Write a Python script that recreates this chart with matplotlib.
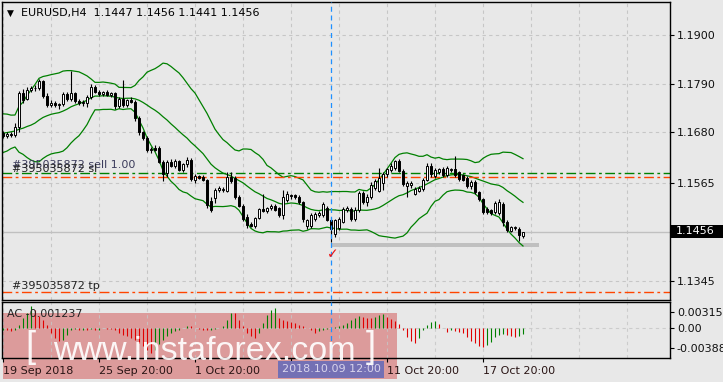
import matplotlib
matplotlib.use("Agg")
import matplotlib.pyplot as plt
import numpy as np
import pandas as pd
from matplotlib.patches import Rectangle

# ---------------- data ----------------
symbol_title = "EURUSD,H4  1.1447 1.1456 1.1441 1.1456"

pre_closes = [1.1650, 1.1640, 1.1655, 1.1690, 1.1705, 1.1700, 1.1715, 1.1690, 1.1660, 1.1645,
              1.1665, 1.1680, 1.1700, 1.1710, 1.1695, 1.1670, 1.1660, 1.1675, 1.1685]

opens = [1.1678, 1.1672, 1.1677, 1.1674, 1.1693, 1.1768, 1.1755, 1.1776, 1.1779, 1.1781,
         1.1796, 1.1762, 1.1742, 1.1745, 1.1741, 1.1743, 1.1766, 1.1756, 1.1768, 1.1750,
         1.1746, 1.1745, 1.1760, 1.1782, 1.1772, 1.1767, 1.1770, 1.1765, 1.1768, 1.1740,
         1.1755, 1.1742, 1.1752, 1.1748, 1.1712, 1.1680, 1.1667, 1.1640, 1.1645, 1.1645,
         1.1614, 1.1588, 1.1614, 1.1605, 1.1615, 1.1595, 1.1608, 1.1618, 1.1573, 1.1581,
         1.1580, 1.1572, 1.1525, 1.1532, 1.1550, 1.1550, 1.1548, 1.1580, 1.1578, 1.1535,
         1.1515, 1.1490, 1.1474, 1.1470, 1.1488, 1.1507, 1.1503, 1.1510, 1.1514, 1.1510,
         1.1494, 1.1528, 1.1538, 1.1538, 1.1534, 1.1522, 1.1468, 1.1468, 1.1485, 1.1494,
         1.1494, 1.1510, 1.1483, 1.1450, 1.1465, 1.1478, 1.1505, 1.1508, 1.1485, 1.1505,
         1.1543, 1.1522, 1.1535, 1.1555, 1.1548, 1.1565, 1.1585, 1.1595, 1.1600, 1.1615,
         1.1594, 1.1560, 1.1562, 1.1542, 1.1548, 1.1552, 1.1573, 1.1605, 1.1582, 1.1590,
         1.1598, 1.1584, 1.1596, 1.1598, 1.1590, 1.1583, 1.1578, 1.1558, 1.1568, 1.1545,
         1.1529, 1.1508, 1.1504, 1.1500, 1.1498, 1.1518, 1.1478, 1.1458, 1.1464, 1.1462,
         1.1447]
highs = [1.1683, 1.1680, 1.1681, 1.1700, 1.1773, 1.1778, 1.1782, 1.1784, 1.1786, 1.1800,
         1.1799, 1.1768, 1.1752, 1.1750, 1.1747, 1.1770, 1.1772, 1.1818, 1.1772, 1.1756,
         1.1752, 1.1764, 1.1790, 1.1786, 1.1776, 1.1773, 1.1775, 1.1772, 1.1772, 1.1760,
         1.1798, 1.1756, 1.1760, 1.1752, 1.1716, 1.1684, 1.1672, 1.1646, 1.1652, 1.1650,
         1.1618, 1.1618, 1.1620, 1.1620, 1.1618, 1.1612, 1.1625, 1.1622, 1.1585, 1.1584,
         1.1583, 1.1575, 1.1535, 1.1555, 1.1558, 1.1556, 1.1590, 1.1590, 1.1582, 1.1538,
         1.1518, 1.1495, 1.1478, 1.1490, 1.1510, 1.1540, 1.1512, 1.1518, 1.1518, 1.1512,
         1.1550, 1.1548, 1.1542, 1.1542, 1.1538, 1.1525, 1.1485, 1.1498, 1.1500, 1.1502,
         1.1522, 1.1515, 1.1487, 1.1485, 1.1490, 1.1512, 1.1514, 1.1512, 1.1512, 1.1548,
         1.1548, 1.1540, 1.1568, 1.1575, 1.1600, 1.1590, 1.1600, 1.1610, 1.1618, 1.1620,
         1.1598, 1.1570, 1.1570, 1.1556, 1.1558, 1.1578, 1.1610, 1.1610, 1.1600, 1.1600,
         1.1602, 1.1605, 1.1600, 1.1627, 1.1594, 1.1587, 1.1582, 1.1572, 1.1572, 1.1548,
         1.1532, 1.1512, 1.1508, 1.1525, 1.1530, 1.1522, 1.1482, 1.1470, 1.1468, 1.1466,
         1.1456]
lows = [1.1668, 1.1668, 1.1669, 1.1670, 1.1680, 1.1745, 1.1752, 1.1770, 1.1774, 1.1776,
        1.1758, 1.1737, 1.1736, 1.1738, 1.1733, 1.1740, 1.1750, 1.1750, 1.1745, 1.1742,
        1.1740, 1.1738, 1.1756, 1.1768, 1.1762, 1.1762, 1.1762, 1.1760, 1.1733, 1.1735,
        1.1738, 1.1738, 1.1745, 1.1705, 1.1675, 1.1663, 1.1636, 1.1633, 1.1638, 1.1610,
        1.1570, 1.1580, 1.1602, 1.1600, 1.1592, 1.1590, 1.1603, 1.1570, 1.1566, 1.1574,
        1.1570, 1.1510, 1.1500, 1.1520, 1.1545, 1.1546, 1.1545, 1.1565, 1.1530, 1.1512,
        1.1480, 1.1465, 1.1466, 1.1465, 1.1484, 1.1500, 1.1498, 1.1505, 1.1502, 1.1490,
        1.1485, 1.1522, 1.1530, 1.1530, 1.1518, 1.1478, 1.1462, 1.1464, 1.1480, 1.1490,
        1.1490, 1.1480, 1.1432, 1.1444, 1.1460, 1.1475, 1.1500, 1.1480, 1.1480, 1.1500,
        1.1518, 1.1515, 1.1530, 1.1550, 1.1545, 1.1550, 1.1580, 1.1590, 1.1595, 1.1590,
        1.1560, 1.1535, 1.1555, 1.1538, 1.1545, 1.1548, 1.1570, 1.1580, 1.1578, 1.1585,
        1.1580, 1.1580, 1.1590, 1.1580, 1.1570, 1.1570, 1.1555, 1.1552, 1.1540, 1.1525,
        1.1495, 1.1495, 1.1494, 1.1496, 1.1494, 1.1470, 1.1455, 1.1455, 1.1460, 1.1435,
        1.1441]
closes = [1.1672, 1.1677, 1.1673, 1.1693, 1.1768, 1.1753, 1.1776, 1.1779, 1.1781, 1.1796,
          1.1762, 1.1742, 1.1745, 1.1741, 1.1743, 1.1766, 1.1756, 1.1768, 1.1750, 1.1746,
          1.1748, 1.1760, 1.1782, 1.1772, 1.1767, 1.1770, 1.1765, 1.1768, 1.1740, 1.1755,
          1.1742, 1.1752, 1.1748, 1.1712, 1.1680, 1.1667, 1.1640, 1.1643, 1.1640, 1.1614,
          1.1586, 1.1614, 1.1605, 1.1615, 1.1595, 1.1608, 1.1618, 1.1575, 1.1581, 1.1578,
          1.1572, 1.1517, 1.1505, 1.1550, 1.1554, 1.1553, 1.1580, 1.1570, 1.1535, 1.1515,
          1.1485, 1.1472, 1.1470, 1.1488, 1.1507, 1.1503, 1.1510, 1.1514, 1.1506, 1.1494,
          1.1535, 1.1540, 1.1536, 1.1534, 1.1522, 1.1484, 1.1483, 1.1494, 1.1496, 1.1499,
          1.1518, 1.1483, 1.1462, 1.1483, 1.1485, 1.1508, 1.1509, 1.1485, 1.1505, 1.1543,
          1.1522, 1.1535, 1.1562, 1.1570, 1.1578, 1.1585, 1.1597, 1.1605, 1.1615, 1.1594,
          1.1563, 1.1565, 1.1566, 1.1552, 1.1554, 1.1573, 1.1605, 1.1585, 1.1596, 1.1598,
          1.1584, 1.1600, 1.1598, 1.1584, 1.1575, 1.1573, 1.1558, 1.1568, 1.1545, 1.1529,
          1.1500, 1.1500, 1.1498, 1.1520, 1.1522, 1.1478, 1.1460, 1.1466, 1.1466, 1.1449,
          1.1456]

# Accelerator oscillator values (x 1e-4)
ac_values = [-3.3, -4.6, -5.0, -3.3, 6.6, 20, 30, 43, 36, 23,
             16, 6.6, -10, -20, -26, -23, -13, -3, -2, -4.6,
             -3.3, -4.6, -2, -3.3, -3.3, 0.3, -1.3, -2, -4.6, -10,
             -13, -16, -20, -23, -30, -36, -43, -49, -44, -32,
             -23, -16, -10, -6.6, -3.3, 0.2, 4.6, 4.0, 0.2, -2,
             -3.3, -4.6, -3.3, -2, 0.2, 3.3, 16, 30, 29, 16,
             3.3, -10, -16, -20, -10, 10, 26, 36, 39.5, 20,
             16.5, 13, 12.5, 10, 6.6, 3.3, 0.2, -3.3, -10, -6.6,
             -3.3, -1, 0.5, 2, 3.3, 6.6, 10, 16, 20, 23,
             21, 20, 19, 22, 25, 27, 22, 18, 13, 7,
             -4, -17, -25, -29, -20, -4, 6, 12, 13, 8,
             0.3, -7, -4, -5, -7, -10, -17, -25, -30, -35,
             -37, -33, -27, -17, -14, -12, -14, -16, -17, -15,
             -12.37]

price_ticks = [1.1900, 1.1790, 1.1680, 1.1565, 1.1345]
price_tick_labels = ["1.1900", "1.1790", "1.1680", "1.1565", "1.1345"]
ac_ticks = [0.003157, 0.0, -0.003884]
ac_tick_labels = ["0.003157", "0.00", "-0.003884"]
time_ticks = [0, 24, 48, 72, 96, 120]
time_labels = ["19 Sep 2018", "25 Sep 20:00", "1 Oct 20:00", "", "11 Oct 20:00", "17 Oct 20:00"]
marker_bar = 82
marker_label = "2018.10.09 12:00"

order_price = 1.1589
sl_price = 1.1580
tp_price = 1.1320
bid_price = 1.1456
zone_low, zone_high = 1.1421, 1.1431
zone_end_bar = 134

# ---------------- figure ----------------
W, H = 723, 382
BG = "#e8e8e8"
GRID = "#c6c6c6"
GREEN = "#008000"
ORANGE = "#ff4500"

fig = plt.figure(figsize=(W / 100, H / 100), dpi=100)
fig.patch.set_facecolor(BG)


def fx(px):
    return px / W


def fy(py):
    return 1 - py / H


ax = fig.add_axes([fx(2), fy(300), 668 / W, 298 / H])
acx = fig.add_axes([fx(2), fy(358), 668 / W, 56 / H])
for a in (ax, acx):
    a.set_facecolor(BG)
    for s in a.spines.values():
        s.set_color("black")
        s.set_linewidth(1.0)
    a.set_xlim(-0.25, 166.75)
# AC panel above the watermark tint, with a see-through background
acx.set_zorder(3)
acx.patch.set_alpha(0.0)

ax.set_ylim(1.13022, 1.19737)
acx.set_ylim(-0.00592, 0.00513)

n = len(closes)
x = np.arange(n)
o = np.array(opens)
h = np.array(highs)
l = np.array(lows)
c = np.array(closes)

# grid
for gx in range(0, 167, 12):
    ax.axvline(gx, color=GRID, lw=0.8, ls=(0, (3, 3)), zorder=0)
    acx.axvline(gx, color=GRID, lw=0.8, ls=(0, (3, 3)), zorder=0, alpha=0.8)
for gy in price_ticks:
    ax.axhline(gy, color=GRID, lw=0.8, ls=(0, (3, 3)), zorder=0)
acx.axhline(0, color=GRID, lw=0.8, ls=(0, (3, 3)), zorder=0, alpha=0.8)

# bid line
ax.axhline(bid_price, color="#c0c0c0", lw=1.0, zorder=1)

# Bollinger bands (20, 2)
s = pd.Series(pre_closes + closes)
mid = s.rolling(20).mean().to_numpy()[-n:]
sd = s.rolling(20).std(ddof=0).to_numpy()[-n:]
for band in (mid, mid + 2 * sd, mid - 2 * sd):
    ax.plot(x, band, color=GREEN, lw=0.9, zorder=2)

# candles
up = c >= o
ax.vlines(x, l, h, color="black", lw=0.8, zorder=3)
lo = np.minimum(o, c)
hh = np.maximum(np.abs(c - o), 0.00004)
ax.bar(x[up], hh[up], bottom=lo[up], width=0.62, facecolor="white",
       edgecolor="black", lw=0.7, zorder=4)
ax.bar(x[~up], hh[~up], bottom=lo[~up], width=0.62, facecolor="black",
       edgecolor="black", lw=0.7, zorder=4)

# order lines
ax.axhline(order_price, color=GREEN, lw=1.0, ls=(0, (7, 2.5, 2, 2.5)), zorder=2)
ax.axhline(sl_price, color=ORANGE, lw=1.0, ls=(0, (7, 2.5, 2, 2.5)), zorder=2)
ax.axhline(tp_price, color=ORANGE, lw=1.0, ls=(0, (7, 2.5, 2, 2.5)), zorder=2)

# gray zone
ax.add_patch(Rectangle((marker_bar, zone_low), zone_end_bar - marker_bar,
                       zone_high - zone_low, facecolor="#c0c0c0",
                       edgecolor="none", zorder=1, clip_on=False))

# marker vertical line
for a in (ax, acx):
    a.axvline(marker_bar, color="#1e90ff", lw=0.9, ls=(0, (4, 3)), zorder=5)

# axis ticks
ax.yaxis.tick_right()
ax.set_yticks(price_ticks)
ax.set_yticklabels(price_tick_labels, fontsize=8, color="#111111")
ax.tick_params(axis="y", length=3, width=0.8, pad=2, direction="out")
ax.tick_params(axis="x", bottom=False, labelbottom=False)

acx.yaxis.tick_right()
acx.set_yticks(ac_ticks)
acx.set_yticklabels(ac_tick_labels, fontsize=8, color="#111111")
acx.tick_params(axis="y", length=3, width=0.8, pad=2, direction="out")
acx.set_xticks(time_ticks)
acx.set_xticklabels(time_labels, fontsize=8, color="#2a1515")
acx.tick_params(axis="x", length=3, width=0.8, pad=3, direction="out")
for lbl in acx.get_xticklabels():
    lbl.set_horizontalalignment("left")

# AC histogram
acv = np.array(ac_values) * 1e-4
prev = np.concatenate([[acv[0]], acv[:-1]])
cols = np.where(acv >= prev, GREEN, "#e00000")
acx.vlines(x, 0, acv, colors=cols, lw=0.8, zorder=3)

# texts
fig.text(fx(7), fy(13), "\u25bc", fontsize=6.5, color="black", va="center", ha="left")
fig.text(fx(21), fy(13), symbol_title, fontsize=8, color="black", va="center", ha="left")
fig.text(fx(12), fy(165), "#395035872 sell 1.00", fontsize=8, color="#3c3c5c",
         va="center", ha="left")
fig.text(fx(12), fy(169), "#395035872 sl", fontsize=8, color="#222222",
         va="center", ha="left")
fig.text(fx(12), fy(286), "#395035872 tp", fontsize=8, color="#222222",
         va="center", ha="left")
fig.text(fx(7), fy(314), "AC -0.001237", fontsize=8, color="#222222",
         va="center", ha="left", zorder=4)
fig.text(fx(333), fy(254), "\u2713", fontsize=10, color="#ee1111", fontweight="bold",
         va="center", ha="center")

# current price box
fig.patches.append(Rectangle((fx(671), fy(237.5)), (723 - 671) / W, 13 / H,
                             transform=fig.transFigure, facecolor="black",
                             edgecolor="none", zorder=4))
fig.text(fx(676), fy(231), "1.1456", fontsize=8, color="white", va="center",
         ha="left", zorder=5)

# watermark overlay
fig.patches.append(Rectangle((fx(3), fy(379)), (397 - 3) / W, (379 - 312.7) / H,
                             transform=fig.transFigure, facecolor="#d24f4f",
                             edgecolor="none", alpha=0.5, zorder=2))
fig.text(fx(331), fy(369.5), marker_label, fontsize=8, color="#d8d4ec",
         va="center", ha="center", zorder=6,
         bbox=dict(boxstyle="square,pad=0.3", facecolor="#7470b4", edgecolor="none"))
wm_font = ["Liberation Sans Narrow", "Liberation Sans", "DejaVu Sans"]
fig.text(fx(53), fy(360), "www.instaforex.com", fontsize=24.5, family=wm_font,
         color="white", alpha=0.92, va="baseline", ha="left", zorder=7)
fig.text(fx(25), fy(357), "[", fontsize=26, family=wm_font, color="white",
         alpha=0.92, va="baseline", ha="left", zorder=7)
fig.text(fx(366), fy(357), "]", fontsize=26, family=wm_font, color="white",
         alpha=0.92, va="baseline", ha="left", zorder=7)

fig.savefig("out.png", dpi=100, facecolor=BG)
